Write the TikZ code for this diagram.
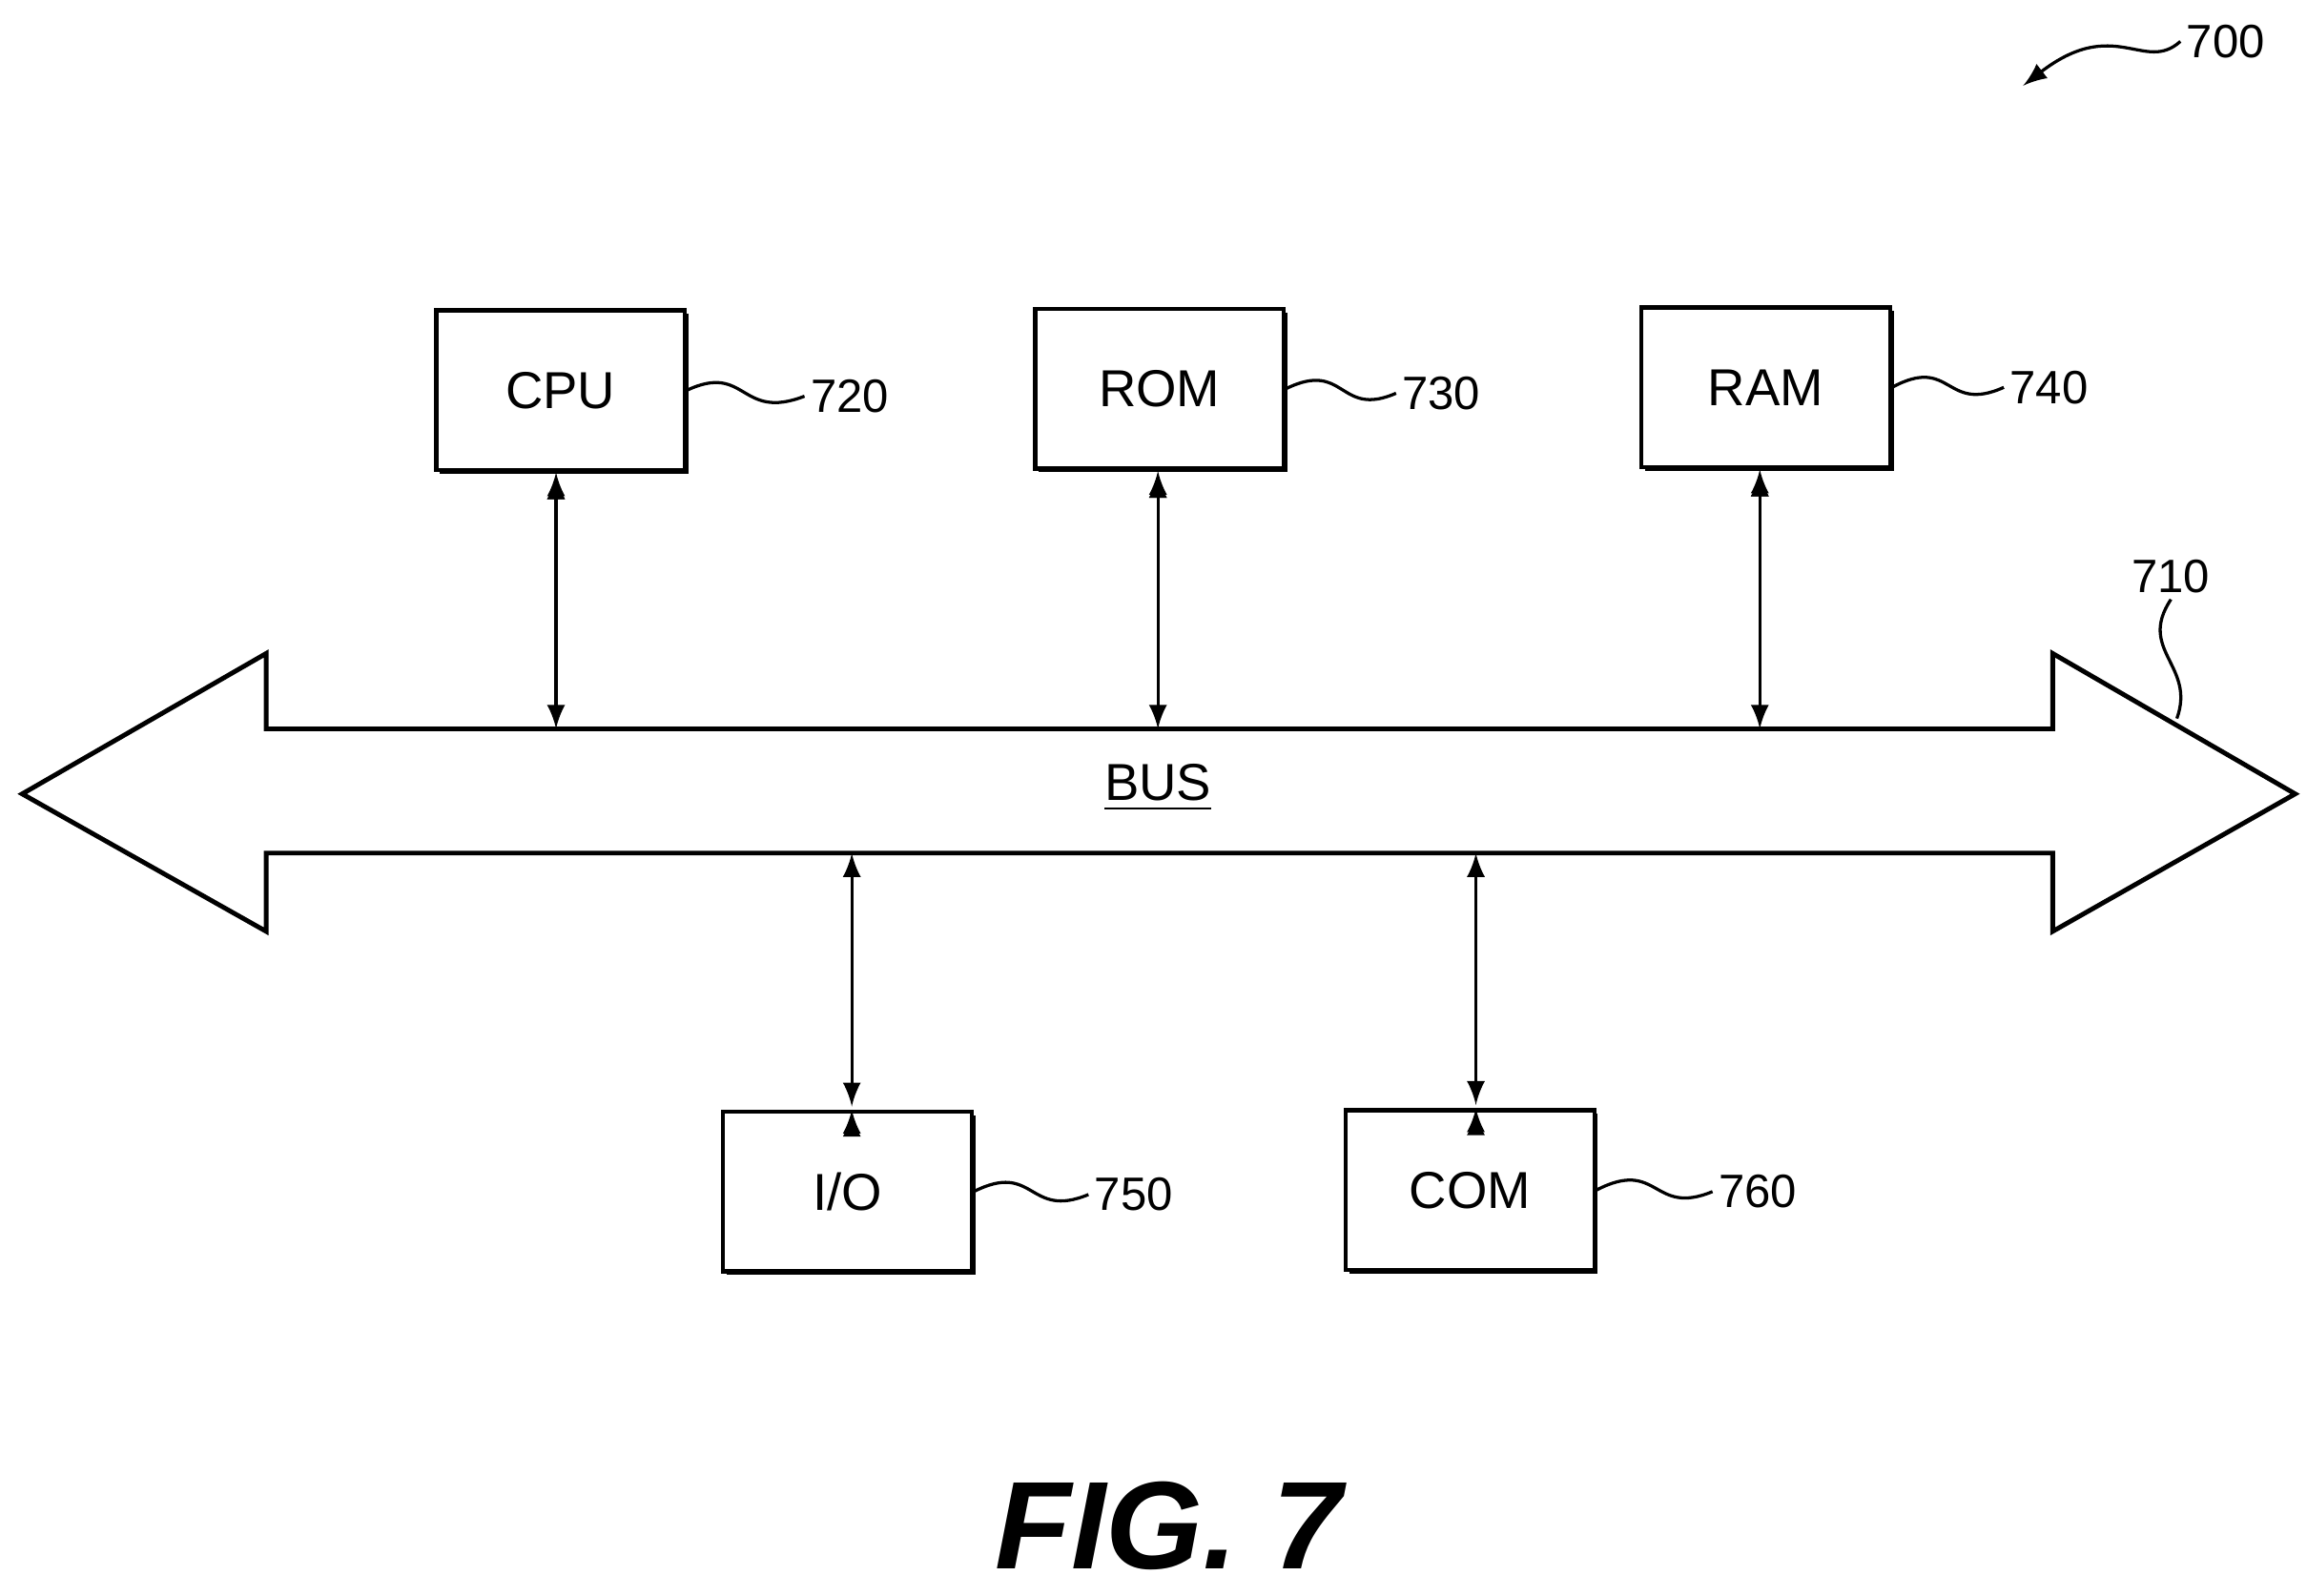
\documentclass[tikz,border=0pt]{standalone}
\usepackage{fontspec}
\setmainfont{Liberation Sans}
\usetikzlibrary{shadows}
\tikzset{
  unit/.style={draw=black, line width=0.8pt, fill=white, minimum width=1.68cm, minimum height=1.08cm,
    font=\fontsize{10}{12}\selectfont,
    drop shadow={shadow xshift=0.7pt, shadow yshift=-0.7pt, fill=black, opacity=1}},
  ref/.style={font=\fontsize{9}{11}\selectfont, inner sep=1pt},
  link/.style={draw=black, line width=0.6pt, <->, >=latex, shorten <=0.6pt},
  lead/.style={draw=black, line width=0.6pt}
}
\begin{document}
\begin{tikzpicture}[x=0.01cm, y=-0.01cm]
  \useasboundingbox (0,0) rectangle (1560,1079);
  % bus
  \draw[line width=0.9pt, fill=white] (15,537) -- (180,442) -- (180,493) -- (1388,493) -- (1388,442)
    -- (1552,537) -- (1388,630) -- (1388,577) -- (180,577) -- (180,630) -- cycle;
  \node (bus) at (783,533) {\fontsize{10}{12}\selectfont\underline{BUS}};
  \coordinate (t1) at (376,493);
  \coordinate (t2) at (783,493);
  \coordinate (t3) at (1190,493);
  \coordinate (d1) at (576,577);
  \coordinate (d2) at (998,577);
  % units
  \node[unit] (cpu) at (379,264) {CPU};
  \node[unit] (rom) at (784,263) {ROM};
  \node[unit] (ram) at (1194,262) {RAM};
  \node[unit] (io) at (573,806) {I/O};
  \node[unit] (com) at (994,805) {COM};
  \path[link] (cpu.south -| t1) edge (t1);
  \path[link] (rom.south -| t2) edge (t2);
  \path[link] (ram.south -| t3) edge (t3);
  \path[link] (io.north -| d1) edge (d1);
  \path[link] (com.north -| d2) edge (d2);
  % reference numerals
  \node[ref, anchor=west] (n720) at (544,268) {720};
  \node[ref, anchor=west] (n730) at (944,266) {730};
  \node[ref, anchor=west] (n740) at (1355,262) {740};
  \node[ref, anchor=west] (n750) at (736,808) {750};
  \node[ref, anchor=west] (n760) at (1158,806) {760};
  \node[ref] (n710) at (1468,390) {710};
  \node[ref] (n700) at (1505,28) {700};
  \draw[lead] (cpu.east) .. controls (505,245) and (500,285) .. (n720.west);
  \draw[lead] (rom.east) .. controls (910,243) and (905,283) .. (n730.west);
  \draw[lead] (ram.east) .. controls (1320,240) and (1315,280) .. (n740.west);
  \draw[lead] (io.east) .. controls (700,785) and (695,825) .. (n750.west);
  \draw[lead] (com.east) .. controls (1122,783) and (1117,823) .. (n760.west);
  \coordinate (b710) at (1472,486);
  \draw[lead] (n710.south) .. controls (1445,440) and (1485,450) .. (b710);
  \coordinate (a700) at (1368,58);
  \draw[lead, ->, >=latex] (n700.west) .. controls (1450,50) and (1430,10) .. (a700);
  \node (fig) at (790,1032) {\fontsize{24}{28}\selectfont\bfseries\itshape FIG. 7};
\end{tikzpicture}
\end{document}
